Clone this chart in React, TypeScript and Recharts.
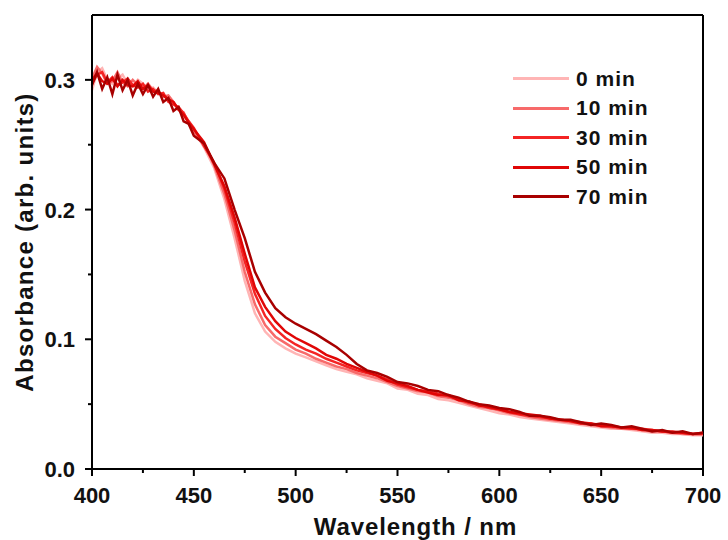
import { LineChart, Line, XAxis, YAxis, Legend, Label, ReferenceLine } from "recharts";

// UV-vis absorbance spectra recorded at different times

const wavelengths = [
  400, 402.5, 405, 407.5, 410, 412.5, 415, 417.5, 420, 422.5, 425, 427.5, 430, 432.5, 435, 437.5, 440, 442.5, 445, 447.5,
  450, 455, 460, 465, 470, 475, 480, 485, 490, 495,
  500, 505, 510, 515, 520, 525, 530, 535, 540, 545, 550, 555, 560, 565, 570, 575, 580, 585, 590, 595,
  600, 605, 610, 615, 620, 625, 630, 635, 640, 645, 650, 655, 660, 665, 670, 675, 680, 685, 690, 695, 700,
];

const min0 = [
  0.292, 0.306, 0.309, 0.3, 0.297, 0.301, 0.304, 0.297, 0.295, 0.3, 0.297, 0.292, 0.294, 0.29, 0.287, 0.286, 0.281, 0.278, 0.272, 0.268,
  0.261, 0.248, 0.232, 0.208, 0.178, 0.145, 0.12, 0.106, 0.098, 0.093,
  0.089, 0.086, 0.083, 0.08, 0.077, 0.075, 0.073, 0.07, 0.068, 0.066, 0.062, 0.061, 0.058, 0.057, 0.054, 0.053, 0.051, 0.049, 0.047, 0.045,
  0.043, 0.042, 0.04, 0.039, 0.038, 0.037, 0.036, 0.035, 0.034, 0.033, 0.032, 0.031, 0.031, 0.03, 0.029, 0.028, 0.028, 0.027, 0.027, 0.026, 0.026,
];
const min10 = [
  0.301, 0.31, 0.305, 0.297, 0.299, 0.306, 0.298, 0.295, 0.3, 0.296, 0.293, 0.297, 0.292, 0.291, 0.287, 0.288, 0.283, 0.277, 0.275, 0.266,
  0.26, 0.251, 0.234, 0.212, 0.184, 0.152, 0.127, 0.111, 0.102, 0.097,
  0.092, 0.089, 0.085, 0.082, 0.079, 0.077, 0.074, 0.072, 0.07, 0.067, 0.064, 0.062, 0.06, 0.059, 0.056, 0.055, 0.053, 0.05, 0.048, 0.047,
  0.045, 0.043, 0.042, 0.04, 0.039, 0.038, 0.037, 0.036, 0.035, 0.034, 0.033, 0.032, 0.031, 0.031, 0.03, 0.029, 0.029, 0.028, 0.027, 0.027, 0.027,
];
const min30 = [
  0.297, 0.304, 0.306, 0.298, 0.302, 0.296, 0.298, 0.301, 0.296, 0.294, 0.297, 0.291, 0.293, 0.289, 0.29, 0.283, 0.281, 0.279, 0.274, 0.268,
  0.263, 0.249, 0.236, 0.216, 0.19, 0.16, 0.135, 0.118, 0.108, 0.101,
  0.096, 0.092, 0.089, 0.085, 0.082, 0.079, 0.076, 0.074, 0.072, 0.069, 0.065, 0.063, 0.061, 0.06, 0.058, 0.056, 0.054, 0.051, 0.05, 0.047,
  0.046, 0.044, 0.042, 0.041, 0.04, 0.039, 0.038, 0.037, 0.036, 0.035, 0.034, 0.033, 0.032, 0.031, 0.031, 0.03, 0.029, 0.028, 0.028, 0.027, 0.027,
];
const min50 = [
  0.3, 0.305, 0.299, 0.297, 0.301, 0.295, 0.3, 0.296, 0.295, 0.299, 0.293, 0.296, 0.291, 0.29, 0.288, 0.285, 0.283, 0.277, 0.273, 0.267,
  0.262, 0.252, 0.235, 0.218, 0.194, 0.166, 0.14, 0.125, 0.114, 0.106,
  0.101, 0.097, 0.093, 0.088, 0.085, 0.081, 0.078, 0.075, 0.072, 0.068, 0.066, 0.064, 0.061, 0.059, 0.057, 0.057, 0.053, 0.052, 0.049, 0.048,
  0.046, 0.044, 0.043, 0.042, 0.041, 0.039, 0.038, 0.037, 0.035, 0.035, 0.033, 0.033, 0.032, 0.032, 0.03, 0.03, 0.029, 0.029, 0.028, 0.027, 0.028,
];
const min70 = [
  0.296, 0.306, 0.293, 0.302, 0.289, 0.304, 0.292, 0.3, 0.288, 0.297, 0.289, 0.296, 0.287, 0.293, 0.283, 0.286, 0.276, 0.279, 0.268, 0.266,
  0.257, 0.251, 0.236, 0.224, 0.2, 0.178, 0.152, 0.136, 0.124, 0.117,
  0.112, 0.108, 0.104, 0.099, 0.094, 0.088, 0.081, 0.076, 0.074, 0.071, 0.067, 0.066, 0.064, 0.061, 0.06, 0.057, 0.055, 0.052, 0.05, 0.049,
  0.047, 0.046, 0.044, 0.041, 0.041, 0.04, 0.038, 0.038, 0.036, 0.034, 0.035, 0.034, 0.032, 0.033, 0.031, 0.029, 0.03, 0.028, 0.029, 0.027, 0.028,
];

const seriesNames = ["0 min", "10 min", "30 min", "50 min", "70 min"];
const seriesKeys = ["m0", "m10", "m30", "m50", "m70"];
const seriesColors = ["#FFB5B5", "#F76A6A", "#F42424", "#E00606", "#A80000"];

// major ticks get a label, the others are minor ticks
const xTicks = [400, 425, 450, 475, 500, 525, 550, 575, 600, 625, 650, 675, 700];
const xMajor = [400, 450, 500, 550, 600, 650, 700];
const yTicks = [0, 0.05, 0.1, 0.15, 0.2, 0.25, 0.3];
const yMajor = [0, 0.1, 0.2, 0.3];

const data = wavelengths.map((nm, i) => ({
  nm,
  m0: min0[i],
  m10: min10[i],
  m30: min30[i],
  m50: min50[i],
  m70: min70[i],
}));

const FONT = "'Liberation Sans', Arial, sans-serif";
const TICK = 7;
const MINOR = 4;

// tickSize/tickMargin are 0, so x/y below sit right on the axis line
const XTick = (props: any) => {
  const { x, y, payload } = props;
  const major = xMajor.includes(payload.value);
  return (
    <g>
      <line x1={x} x2={x} y1={y} y2={y + (major ? TICK : MINOR)} stroke="#000" strokeWidth={2} />
      {major && (
        <text x={x} y={y + 34} textAnchor="middle" fontFamily={FONT} fontWeight={700} fontSize={22} fill="#111">
          {payload.value}
        </text>
      )}
    </g>
  );
};

const YTick = (props: any) => {
  const { x, y, payload } = props;
  const major = yMajor.some((v) => Math.abs(v - payload.value) < 1e-9);
  return (
    <g>
      <line x1={x} x2={x - (major ? TICK : MINOR)} y1={y} y2={y} stroke="#000" strokeWidth={2} />
      {major && (
        <text x={x - 17} y={y + 8} textAnchor="end" fontFamily={FONT} fontWeight={700} fontSize={22} fill="#111">
          {payload.value.toFixed(1)}
        </text>
      )}
    </g>
  );
};

const LegendBox = () => (
  <div style={{ fontFamily: FONT, fontWeight: 700, fontSize: 21, letterSpacing: 1, color: "#111" }}>
    {seriesNames.map((name, i) => (
      <div key={name} style={{ display: "flex", alignItems: "center", height: 29.5 }}>
        <div style={{ width: 56, height: 3, background: seriesColors[i] }} />
        <span style={{ marginLeft: 7 }}>{name}</span>
      </div>
    ))}
  </div>
);

export default function App() {
  return (
    <div style={{ position: "absolute", left: 0, top: 0, background: "#fff" }}>
      <LineChart width={728} height={540} data={data} margin={{ top: 15, right: 25, bottom: 0, left: 0 }}>
        <XAxis
          dataKey="nm"
          type="number"
          domain={[400, 700]}
          ticks={xTicks}
          interval={0}
          height={71}
          axisLine={{ stroke: "#000", strokeWidth: 2 }}
          tickLine={false}
          tickSize={0}
          tickMargin={0}
          tick={<XTick />}
        >
          <Label
            value="Wavelength / nm"
            position="insideBottom"
            offset={5}
            dx={18}
            style={{ fontFamily: FONT, fontWeight: 700, fontSize: 24, letterSpacing: 0.9, fill: "#111" }}
          />
        </XAxis>
        <YAxis
          type="number"
          domain={[0, 0.35]}
          ticks={yTicks}
          interval={0}
          width={92}
          axisLine={{ stroke: "#000", strokeWidth: 2 }}
          tickLine={false}
          tickSize={0}
          tickMargin={0}
          tick={<YTick />}
        >
          <Label
            value="Absorbance (arb. units)"
            angle={-90}
            position="insideLeft"
            offset={24}
            style={{ fontFamily: FONT, fontWeight: 700, fontSize: 24, letterSpacing: 1.3, fill: "#111", textAnchor: "middle" }}
          />
        </YAxis>
        {/* top and right edges of the frame */}
        <ReferenceLine y={0.35} stroke="#000" strokeWidth={2} ifOverflow="visible" />
        <ReferenceLine x={700} stroke="#000" strokeWidth={2} ifOverflow="visible" />
        <Legend
          layout="vertical"
          align="center"
          verticalAlign="middle"
          content={() => <LegendBox />}
          wrapperStyle={{ left: 513, top: 64, width: 170, height: 150 }}
        />
        {seriesKeys.map((k, i) => (
          <Line
            key={k}
            dataKey={k}
            name={seriesNames[i]}
            stroke={seriesColors[i]}
            strokeWidth={2.5}
            dot={false}
            type="linear"
            isAnimationActive={false}
          />
        ))}
      </LineChart>
    </div>
  );
}
